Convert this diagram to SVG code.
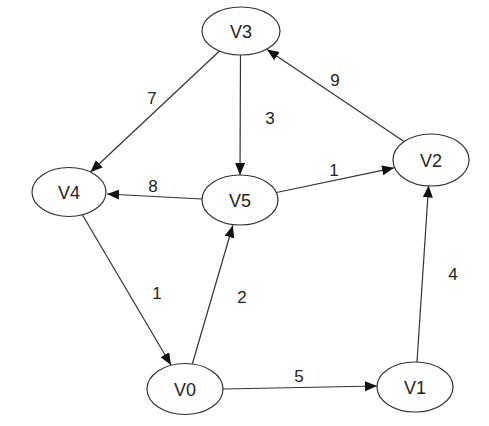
<svg xmlns="http://www.w3.org/2000/svg" width="489" height="426" viewBox="0 0 489 426">
<defs>
<style>
.node ellipse{fill:#fff;stroke:#333;stroke-width:1.2}
.node text{font-family:"Liberation Sans",Arial,sans-serif;font-size:18px;fill:#222;text-anchor:middle}
.edges line{stroke:#333;stroke-width:1.2;marker-end:url(#arr)}
.lbl{font-family:"Liberation Sans",Arial,sans-serif;font-size:17px;fill:#222;text-anchor:middle}
</style>
<marker id="arr" markerUnits="userSpaceOnUse" markerWidth="14" markerHeight="12" refX="12" refY="5" orient="auto">
<path d="M0,0 L12,5 L0,10 z" fill="#111"/>
</marker>
</defs>
<rect width="489" height="426" fill="#fff"/>
<g class="edges">
<line x1="219.5" y1="51" x2="90.5" y2="172"/>
<line x1="240.5" y1="55" x2="240" y2="175"/>
<line x1="404" y1="141.5" x2="267" y2="49.5"/>
<line x1="276.5" y1="192.5" x2="394" y2="167.8"/>
<line x1="202" y1="199" x2="107" y2="194"/>
<line x1="82.5" y1="215" x2="171" y2="365"/>
<line x1="192.3" y1="364" x2="232.8" y2="225.5"/>
<line x1="223" y1="389" x2="377" y2="386"/>
<line x1="417" y1="362" x2="428.6" y2="185.5"/>
</g>
<g id="labels">
<text class="lbl" x="152" y="104">7</text>
<text class="lbl" x="270" y="124">3</text>
<text class="lbl" x="335" y="86">9</text>
<text class="lbl" x="334" y="176">1</text>
<text class="lbl" x="153" y="192">8</text>
<text class="lbl" x="157" y="299">1</text>
<text class="lbl" x="242" y="303">2</text>
<text class="lbl" x="299" y="382">5</text>
<text class="lbl" x="453" y="280">4</text>
</g>
<g id="V3" class="node"><ellipse cx="241" cy="31" rx="39" ry="24"/><text x="241" y="37.5">V3</text></g>
<g id="V2" class="node"><ellipse cx="431" cy="160" rx="38" ry="26"/><text x="431" y="166.5">V2</text></g>
<g id="V4" class="node"><ellipse cx="69" cy="192" rx="37" ry="24.5"/><text x="69" y="198.5">V4</text></g>
<g id="V5" class="node"><ellipse cx="240" cy="200" rx="38" ry="25"/><text x="240" y="206.5">V5</text></g>
<g id="V0" class="node"><ellipse cx="185" cy="389" rx="38" ry="25.5"/><text x="185" y="395.5">V0</text></g>
<g id="V1" class="node"><ellipse cx="415" cy="387" rx="38" ry="25"/><text x="415" y="393.5">V1</text></g>
</svg>
